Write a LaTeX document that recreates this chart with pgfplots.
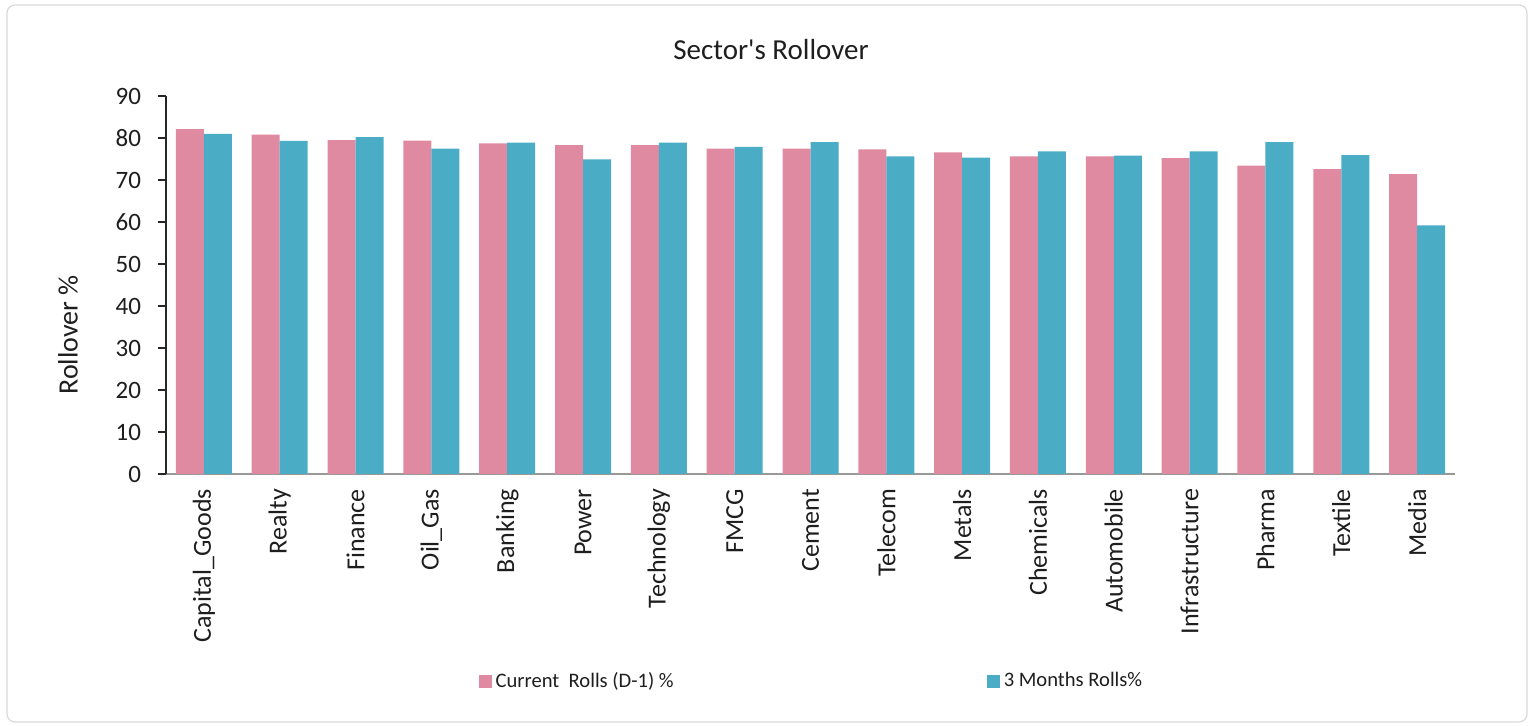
\documentclass[border=0pt]{standalone}
\usepackage{pgfplots}
\pgfplotsset{compat=1.18}
\usepackage{fontspec}
\setmainfont{Carlito}[Ligatures=TeXOff]
\definecolor{pinkbar}{RGB}{224,138,162}
\definecolor{bluebar}{RGB}{75,172,198}
\definecolor{txt}{RGB}{30,30,30}
\begin{document}
\begin{tikzpicture}
\path[use as bounding box] (0,0) rectangle (767.5pt,363pt);
\draw[rounded corners=4pt, color=black!15, line width=0.6pt] (3.5pt,2pt) rectangle (763.5pt,360.5pt);
\node[text=txt, font=\fontsize{14.5}{16}\selectfont] at (385.5pt,338pt) {Sector\textquotesingle s Rollover};
\node[text=txt, rotate=90, font=\fontsize{14}{16}\selectfont] at (34pt,195.5pt) {Rollover \%};
\begin{axis}[
  at={(83pt,126pt)}, anchor=south west,
  scale only axis, width=644.5pt, height=189pt,
  ymin=0, ymax=90, xmin=-0.5, xmax=16.5,
  ybar=0pt, bar width=14pt,
  axis x line=bottom, axis y line=left,
  axis line style={-},
  x axis line style={draw=black!40, line width=0.8pt},
  y axis line style={draw=black!85, line width=0.8pt},
  ytick={0,10,...,90},
  xtick={0,...,16},
  xticklabels={Capital\_Goods, Realty, Finance, Oil\_Gas, Banking, Power, Technology, FMCG, Cement, Telecom, Metals, Chemicals, Automobile, Infrastructure, Pharma, Textile, Media},
  xtick style={draw=none},
  ytick style={draw=black!85, line width=0.8pt},
  tick align=outside, major tick length=4pt,
  xticklabel style={rotate=90, anchor=east, text=txt, font=\fontsize{13}{15}\selectfont},
  yticklabel style={text=txt, xshift=-5pt, font=\fontsize{12.5}{14}\selectfont},
  /pgf/number format/assume math mode=true,
  legend style={at={(0.2376,-0.548)}, anchor=west, draw=none, fill=none, legend columns=2,
    font=\fontsize{10.3}{12}\selectfont, text=txt,
    /tikz/every even column/.append style={column sep=154.5pt}},
  legend image code/.code={\fill[#1] (0pt,-3.25pt) rectangle (6.5pt,3.25pt);},
]
\addplot[fill=pinkbar, draw=none] coordinates {
(0,82.1) (1,80.8) (2,79.5) (3,79.4) (4,78.7) (5,78.3) (6,78.3) (7,77.5) (8,77.5)
(9,77.3) (10,76.6) (11,75.6) (12,75.6) (13,75.2) (14,73.4) (15,72.6) (16,71.4)};
\addplot[fill=bluebar, draw=none] coordinates {
(0,81.0) (1,79.3) (2,80.2) (3,77.5) (4,78.9) (5,74.9) (6,78.9) (7,77.9) (8,79.0)
(9,75.6) (10,75.3) (11,76.8) (12,75.8) (13,76.8) (14,79.0) (15,75.9) (16,59.2)};
\legend{Current\ \ Rolls (D-1) \%, 3 Months Rolls\%}
\end{axis}
\end{tikzpicture}
\end{document}
